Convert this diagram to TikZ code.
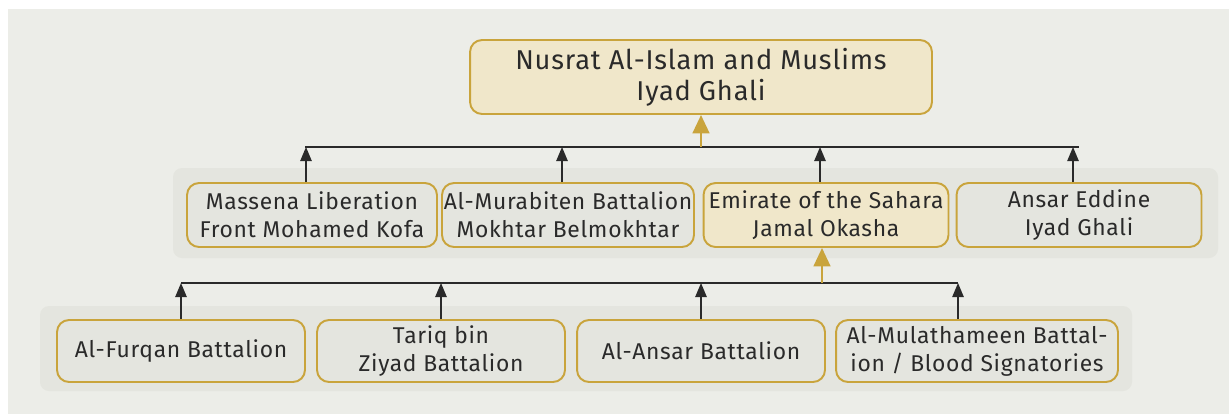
\documentclass[tikz,border=0pt]{standalone}
\usepackage{fontspec}
\setmainfont{Fira Sans}[LetterSpace=3]
\usepackage{xcolor}
\usetikzlibrary{arrows.meta, positioning}

\definecolor{pagegray}{HTML}{ECEDE8}
\definecolor{bandgray}{HTML}{E4E5DF}
\definecolor{gold}{HTML}{C9A43C}
\definecolor{cream}{HTML}{F0E7CA}
\definecolor{ink}{HTML}{2A2A2A}

\begin{document}
\begin{tikzpicture}[
    x=0.02cm, y=-0.02cm,
    unit/.style={rectangle, rounded corners=0.24cm, draw=gold, line width=1.1pt, fill=bandgray, text=ink, align=center, inner sep=1pt, font=\fontsize{13}{15.8}\selectfont},
    lead/.style={unit, fill=cream},
    band/.style={fill=bandgray, rounded corners=0.18cm},
    arrow/.style={-{Triangle[width=6.5pt,length=8pt]}, line width=0.8pt, ink},
    goldarrow/.style={-{Triangle[width=9.5pt,length=10.5pt]}, line width=1.5pt, gold}
]
\useasboundingbox (0,0) rectangle (1229,414);
\fill[pagegray] (8,9) rectangle (1229,414);
\fill[band] (173,168) rectangle (1218,258);
\fill[band] (40,306) rectangle (1132,391);

\node[lead, minimum width=9.24cm, minimum height=1.48cm, font=\fontsize{15.5}{17.6}\selectfont] (jnim) at (701,77) {Nusrat Al-Islam and Muslims\\Iyad Ghali};

\node[unit, minimum width=5.0cm, minimum height=1.28cm] (massena) at (312,215) {Massena Liberation\\Front Mohamed Kofa};
\node[unit, minimum width=4.92cm, minimum height=1.28cm] (murabiten) at (568,215) {Al-Murabiten Battalion\\Mokhtar Belmokhtar};
\node[lead, minimum width=4.9cm, minimum height=1.28cm] (sahara) at (826,215) {Emirate of the Sahara\\Jamal Okasha};
\node[unit, minimum width=4.9cm, minimum height=1.28cm] (ansar) at (1079,215) {Ansar Eddine\\Iyad Ghali};

\node[unit, minimum width=4.96cm, minimum height=1.24cm] (furqan) at (181,351) {Al-Furqan Battalion};
\node[unit, minimum width=4.96cm, minimum height=1.24cm] (tariq) at (441,351) {Tariq bin\\Ziyad Battalion};
\node[unit, minimum width=4.96cm, minimum height=1.24cm] (alansar) at (701,351) {Al-Ansar Battalion};
\node[unit, minimum width=5.64cm, minimum height=1.24cm] (mulath) at (977,351) {Al-Mulathameen Battal-\\ion / Blood Signatories};

% upper level
\coordinate (topbar) at (701,147);
\draw[ink, line width=0.8pt] ([xshift=-0.14cm]massena.north |- topbar) -- (ansar.north |- topbar);
\draw[goldarrow] (topbar) -- (jnim.south);
\foreach \n in {massena, murabiten, sahara, ansar}
    \draw[arrow] ([xshift=-0.12cm]\n.north) -- ([xshift=-0.12cm]\n.north |- topbar);

% lower level
\coordinate (lowbar) at (822,283);
\coordinate (mulathtop) at ([xshift=-0.38cm]mulath.north);
\draw[ink, line width=0.8pt] (furqan.north |- lowbar) -- (mulathtop |- lowbar);
\draw[goldarrow] ([xshift=-0.08cm]sahara.south |- lowbar) -- ([xshift=-0.08cm]sahara.south);
\foreach \n in {furqan, tariq, alansar}
    \draw[arrow] (\n.north) -- (\n.north |- lowbar);
\draw[arrow] (mulathtop) -- (mulathtop |- lowbar);
\end{tikzpicture}
\end{document}
